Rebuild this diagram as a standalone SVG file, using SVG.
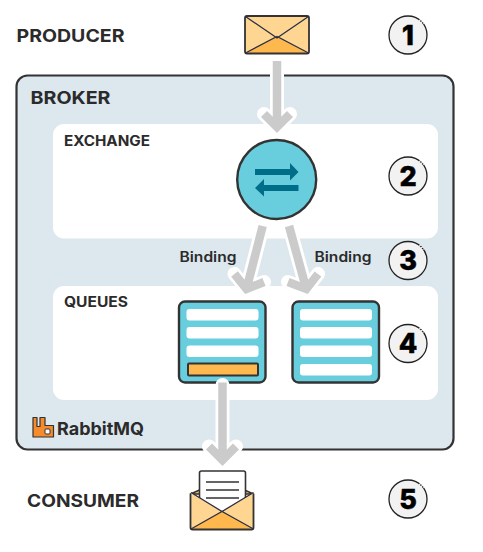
<svg xmlns="http://www.w3.org/2000/svg" width="483" height="552" viewBox="0 0 483 552">
<style>
.lbl{font-family:"Inter","Liberation Sans",sans-serif;font-weight:700;fill:#2b2b2b}
.big{font-size:17.5px}
.sm{font-size:14px}
.bd{font-size:14px;font-weight:600}
.num{font-family:"Inter","Liberation Sans",sans-serif;font-weight:800;font-size:27px;fill:#000;stroke:#000;stroke-width:.5;text-anchor:middle}
.nc{fill:#f2f2f2;stroke:#222;stroke-width:1.3}
.gap{fill:none;stroke:#fff;stroke-width:2;stroke-dasharray:1.2 1.4}
.halo{fill:none;stroke:#fff;stroke-width:14;stroke-linecap:round;stroke-linejoin:round}
.arr{fill:none;stroke:#cbcbcb;stroke-width:8.500}
.slot{fill:#fff;rx:3}
.qb{fill:#68cede;stroke:#333;stroke-width:2.4}
</style>
<defs><path id="gap-mark" class="gap" d="M11.500 -15.200A19 19 0 0 1 15.500 -11"/></defs>
<g id="broker"><rect x="16.500" y="75.500" width="437" height="374" rx="11" fill="#dde7ee" stroke="#333" stroke-width="2.2"/><text class="lbl big" x="30.500" y="104" textLength="80" lengthAdjust="spacingAndGlyphs">BROKER</text></g>
<g id="exchange-panel"><rect x="53" y="124" width="385" height="114.500" rx="11" fill="#fff"/><text class="lbl sm" x="64" y="146" textLength="86" lengthAdjust="spacingAndGlyphs">EXCHANGE</text></g>
<g id="queues-panel"><rect x="53" y="286" width="385" height="114" rx="11" fill="#fff"/><text class="lbl sm" x="64" y="307" textLength="64" lengthAdjust="spacingAndGlyphs">QUEUES</text></g>
<g id="producer"><text class="lbl big" x="16.500" y="42" textLength="108" lengthAdjust="spacingAndGlyphs">PRODUCER</text></g>
<g id="producer-message">
<rect x="245" y="16" width="64" height="37.500" rx="2" fill="#ffd592"/>
<path d="M245 53.500L277 37L309 53.500Z" fill="#ffb84d"/>
<rect x="245" y="16" width="64" height="37.500" rx="2" fill="none" stroke="#333" stroke-width="1.800"/>
<path d="M245.500 16.500L277 38L308.500 16.500M245.500 53L277 36.500L308.500 53" fill="none" stroke="#2a3045" stroke-width="1.300"/>
</g>
<g id="exchange-node">
<circle cx="276.700" cy="179.500" r="39.500" fill="#68cede" stroke="#333" stroke-width="2.400"/>
<path d="M255 169H290V163L298.500 172L290 180.500V175H255Z" fill="#006d89"/>
<path d="M298.500 185H264V179L255 188L264 196.500V191H298.500Z" fill="#006d89"/>
</g>
<g id="queue-1">
<rect class="qb" x="179" y="301.500" width="86.500" height="81" rx="6"/>
<rect class="slot" x="186.500" y="309" width="72" height="11.500"/>
<rect class="slot" x="186.500" y="327" width="72" height="11.500"/>
<rect class="slot" x="186.500" y="345.500" width="72" height="11.500"/>
<rect x="188" y="363.500" width="70" height="12" rx="1" fill="#ffb84d" stroke="#333" stroke-width="2"/>
</g>
<g id="queue-2">
<rect class="qb" x="292.500" y="301.500" width="86.500" height="81" rx="6"/>
<rect class="slot" x="300" y="309" width="72" height="11.500"/>
<rect class="slot" x="300" y="327" width="72" height="11.500"/>
<rect class="slot" x="300" y="345.500" width="72" height="11.500"/>
<rect class="slot" x="300" y="364" width="72" height="11.500"/>
</g>
<g id="connectors">
<path class="halo" d="M277 68V127M264 114L277 127L290 114"/>
<path class="arr" d="M277 61V127M264 114L277 127L290 114"/>
<path class="halo" d="M261 233L246.500 289M234.500 274L246.500 289L264 282"/>
<path class="arr" d="M262.700 226L246.500 289M234.500 274L246.500 289L264 282"/>
<path class="halo" d="M291 233L306.300 289M288 282L306.300 289L318 274"/>
<path class="arr" d="M289 226L306.300 289M288 282L306.300 289L318 274"/>
<path class="halo" d="M222.500 385V460M209 446.500L222.500 460L236 446.500"/>
<path class="arr" d="M222.500 382.500V460M209 446.500L222.500 460L236 446.500"/>
</g>
<g id="binding-labels">
<text class="lbl bd" x="179.500" y="262" textLength="57" lengthAdjust="spacingAndGlyphs">Binding</text>
<text class="lbl bd" x="314.500" y="262" textLength="57" lengthAdjust="spacingAndGlyphs">Binding</text>
</g>
<g id="rabbitmq-logo">
<path d="M33 417.500H37V426.500H40V417.500H45V425.500H53.500V437H33Z" fill="#f58b2c" stroke="#333" stroke-width="1.200" stroke-linejoin="round"/>
<rect x="45" y="429" width="5" height="5" rx="1" fill="#fff" stroke="#333"/>
<text class="lbl" x="57" y="435" font-size="17.500" textLength="87" lengthAdjust="spacingAndGlyphs">RabbitMQ</text>
</g>
<g id="consumer"><text class="lbl big" x="27" y="507" textLength="112" lengthAdjust="spacingAndGlyphs">CONSUMER</text></g>
<g id="consumer-message">
<path d="M190.500 494L222 480L253.500 494Z" fill="#ffb84d" stroke="#333" stroke-width="1.500"/>
<rect x="199.500" y="471" width="46" height="46" rx="2" fill="#fff" stroke="#333" stroke-width="1.600"/>
<path d="M206 482H239M206 490H239M206 498H239" stroke="#333" stroke-width="1.300" fill="none"/>
<path d="M191 492.500L222 511.500L253.500 492.500V529.500H191Z" fill="#ffd592"/>
<path d="M191 529.500L222 511.500L253.500 529.500Z" fill="#ffb84d"/>
<path d="M190.500 493.500V527.500Q190.500 529.500 192.500 529.500H251.500Q253.500 529.500 253.500 527.500V493.500" fill="none" stroke="#333" stroke-width="1.800"/>
<path d="M191 492.500L222 511.500L253.500 492.500M191 529L222 511.500L253.500 529" fill="none" stroke="#2a3045" stroke-width="1.300"/>
</g>
<g id="step-1"><circle class="nc" cx="408" cy="35" r="19"/><use href="#gap-mark" x="408" y="35"/><text class="num" x="408" y="45">1</text></g>
<g id="step-2"><circle class="nc" cx="408" cy="176" r="19"/><use href="#gap-mark" x="408" y="176"/><text class="num" x="408" y="186">2</text></g>
<g id="step-3"><circle class="nc" cx="408" cy="260.500" r="19"/><use href="#gap-mark" x="408" y="260.500"/><text class="num" x="408" y="270">3</text></g>
<g id="step-4"><circle class="nc" cx="408" cy="343.500" r="19"/><use href="#gap-mark" x="408" y="343.500"/><text class="num" x="408" y="353">4</text></g>
<g id="step-5"><circle class="nc" cx="408" cy="499" r="19"/><use href="#gap-mark" x="408" y="499"/><text class="num" x="408" y="509">5</text></g>
</svg>
